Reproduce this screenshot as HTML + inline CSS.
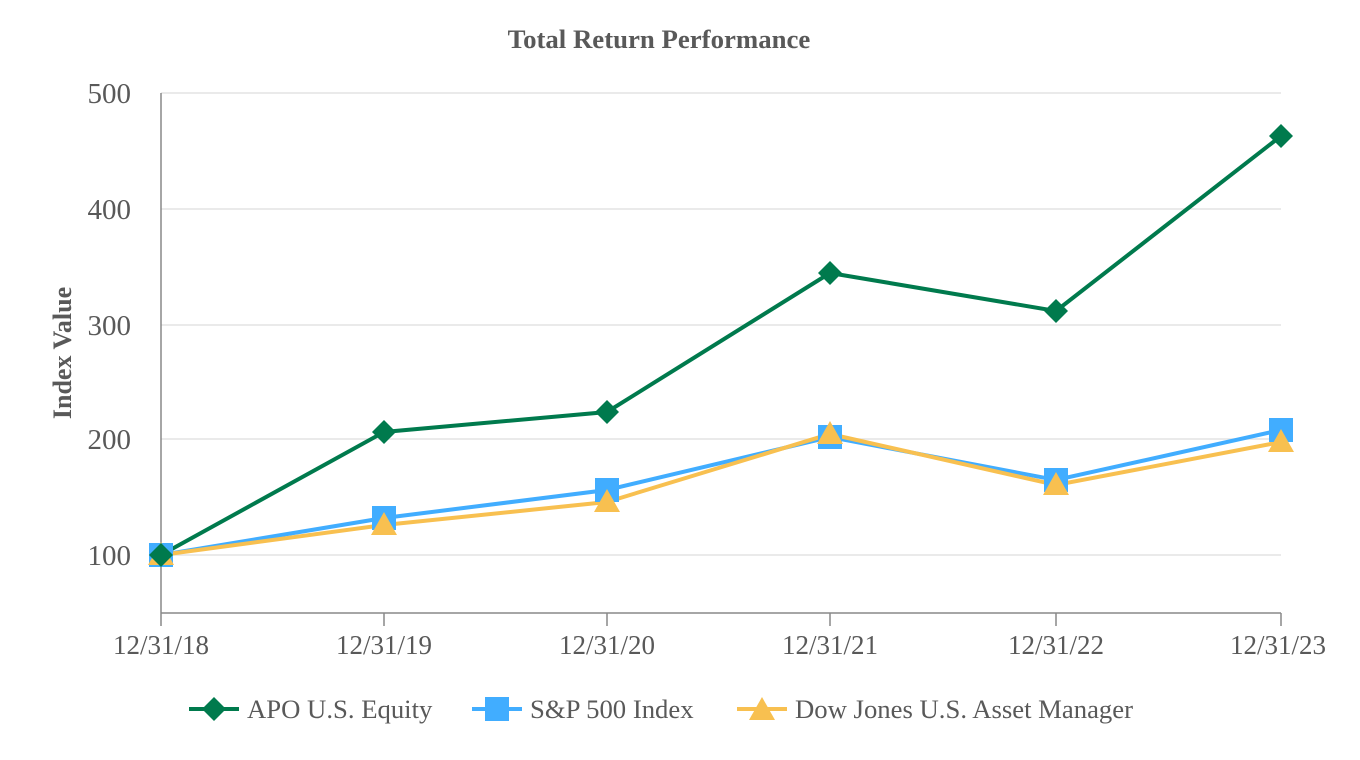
<!DOCTYPE html>
<html><head><meta charset="utf-8"><style>
html,body{margin:0;padding:0;background:#fff;}
svg{display:block;font-family:"Liberation Serif",serif;}
</style></head><body>
<svg width="1360" height="760" viewBox="0 0 1360 760" xmlns="http://www.w3.org/2000/svg">
<text x="659" y="48" text-anchor="middle" font-size="26.8" font-weight="bold" fill="#595959">Total Return Performance</text>
<g stroke="#e3e3e3" stroke-width="1.5">
<line x1="161" y1="93" x2="1281" y2="93"/>
<line x1="161" y1="209" x2="1281" y2="209"/>
<line x1="161" y1="325" x2="1281" y2="325"/>
<line x1="161" y1="439" x2="1281" y2="439"/>
<line x1="161" y1="555" x2="1281" y2="555"/>
</g>
<g stroke="#888" stroke-width="1.5">
<line x1="161" y1="93" x2="161" y2="613"/>
<line x1="161" y1="613" x2="1281" y2="613"/>
<line x1="161" y1="613" x2="161" y2="626"/>
<line x1="384" y1="613" x2="384" y2="626"/>
<line x1="607" y1="613" x2="607" y2="626"/>
<line x1="830" y1="613" x2="830" y2="626"/>
<line x1="1056" y1="613" x2="1056" y2="626"/>
<line x1="1281" y1="613" x2="1281" y2="626"/>
</g>
<g font-size="29" fill="#595959" text-anchor="end">
<text x="131" y="103">500</text>
<text x="131" y="219">400</text>
<text x="131" y="335">300</text>
<text x="131" y="449">200</text>
<text x="131" y="565">100</text>
</g>
<g font-size="27" fill="#595959" text-anchor="middle">
<text x="161" y="654">12/31/18</text>
<text x="384" y="654">12/31/19</text>
<text x="607" y="654">12/31/20</text>
<text x="830" y="654">12/31/21</text>
<text x="1056" y="654">12/31/22</text>
<text x="1278" y="654">12/31/23</text>
</g>
<text transform="translate(71,353) rotate(-90)" text-anchor="middle" font-size="26" font-weight="bold" fill="#595959">Index Value</text>
<polyline fill="none" stroke="#41adff" stroke-width="4" points="161,555 384,518 607,490 830,437 1056,480 1281,430"/>
<polyline fill="none" stroke="#f8c050" stroke-width="4" points="161,555 384,525 607,502 830,434 1056,485 1281,442"/>
<polyline fill="none" stroke="#007a4d" stroke-width="4" points="161,555 384,432 607,412 830,273 1056,311 1281,136"/>
<g fill="#41adff">
<rect x="149" y="543" width="24" height="24"/><rect x="372" y="506" width="24" height="24"/><rect x="595" y="478" width="24" height="24"/><rect x="818" y="425" width="24" height="24"/><rect x="1044" y="468" width="24" height="24"/><rect x="1269" y="418" width="24" height="24"/>
</g>
<g fill="#f8c050">
<polygon points="161,542 174,565 148,565"/><polygon points="384,512 397,535 371,535"/><polygon points="607,489 620,512 594,512"/><polygon points="830,421 843,444 817,444"/><polygon points="1056,472 1069,495 1043,495"/><polygon points="1281,429 1294,452 1268,452"/>
</g>
<g fill="#007a4d">
<polygon points="161,543 173,555 161,567 149,555"/><polygon points="384,420 396,432 384,444 372,432"/><polygon points="607,400 619,412 607,424 595,412"/><polygon points="830,261 842,273 830,285 818,273"/><polygon points="1056,299 1068,311 1056,323 1044,311"/><polygon points="1281,124 1293,136 1281,148 1269,136"/>
</g>
<line x1="189" y1="709" x2="239" y2="709" stroke="#007a4d" stroke-width="4"/>
<polygon points="214,697 226,709 214,721 202,709" fill="#007a4d"/>
<text x="247" y="718" font-size="26.7" fill="#595959">APO U.S. Equity</text>
<line x1="472" y1="709" x2="522" y2="709" stroke="#41adff" stroke-width="4"/>
<rect x="485" y="697" width="24" height="24" fill="#41adff"/>
<text x="530" y="718" font-size="26.7" fill="#595959">S&amp;P 500 Index</text>
<line x1="737" y1="709" x2="787" y2="709" stroke="#f8c050" stroke-width="4"/>
<polygon points="762,697 775,720 749,720" fill="#f8c050"/>
<text x="795" y="718" font-size="26.7" fill="#595959">Dow Jones U.S. Asset Manager</text>
</svg>
</body></html>
